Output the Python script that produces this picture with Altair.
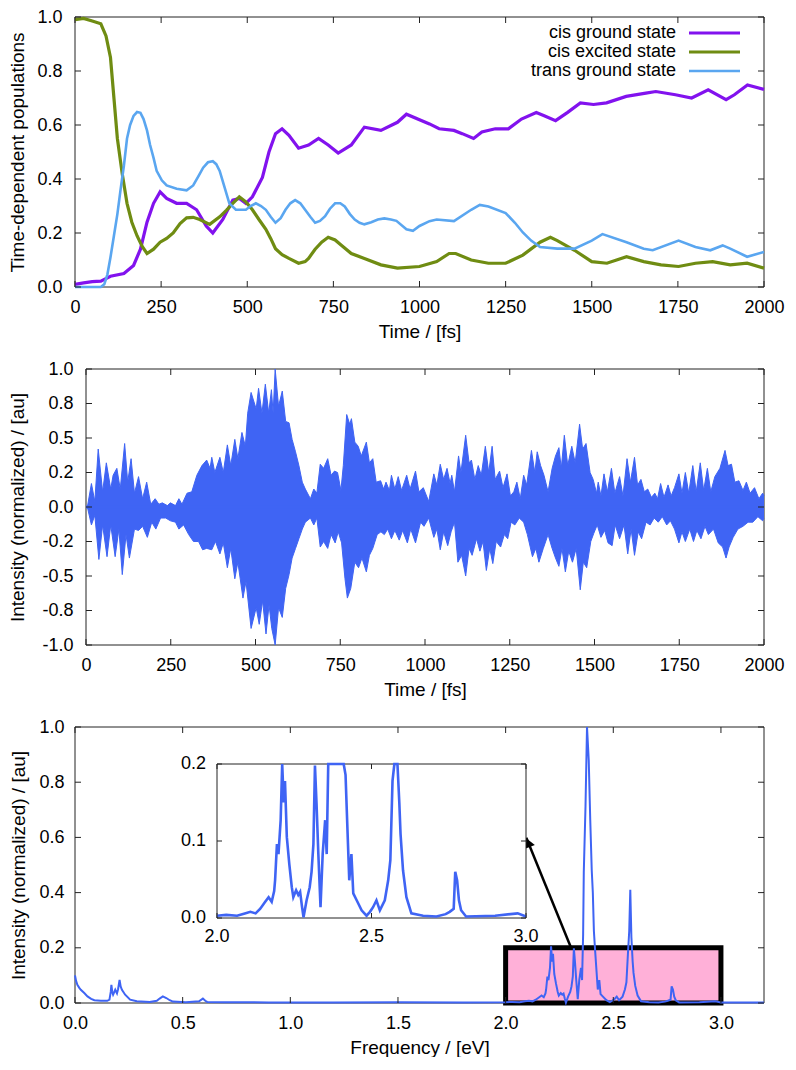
import altair as alt
import pandas as pd

# ---------------------------------------------------------------- data
time_ticks = [0, 250, 500, 750, 1000, 1250, 1500, 1750, 2000]
pop_ticks = [0.0, 0.2, 0.4, 0.6, 0.8, 1.0]
signal_ticks = [-1.0, -0.75, -0.5, -0.25, 0.0, 0.25, 0.5, 0.75, 1.0]
freq_ticks = [0.0, 0.5, 1.0, 1.5, 2.0, 2.5, 3.0]
inten_ticks = [0.0, 0.2, 0.4, 0.6, 0.8, 1.0]
inset_freq_ticks = [2.0, 2.5, 3.0]
inset_inten_ticks = [0.0, 0.1, 0.2]

series_names = ["cis ground state", "cis excited state", "trans ground state"]
series_colors = ["#8212ee", "#6f8c12", "#5aa6f0"]
series_widths = [3.2, 3.2, 2.6]

cis_ground = [
    (0, 0.010), (25, 0.015), (50, 0.020), (75, 0.022), (103, 0.040), (142, 0.050), (170, 0.080),
    (190, 0.140), (209, 0.240), (228, 0.310), (247, 0.352), (266, 0.328), (295, 0.310), (324, 0.310),
    (353, 0.286), (381, 0.226), (400, 0.200), (429, 0.250), (458, 0.322), (477, 0.328), (496, 0.310),
    (515, 0.334), (544, 0.406), (563, 0.500), (582, 0.568), (601, 0.586), (621, 0.562), (649, 0.514),
    (678, 0.526), (707, 0.550), (735, 0.526), (764, 0.496), (802, 0.526), (840, 0.592), (888, 0.580),
    (936, 0.610), (962, 0.640), (1029, 0.604), (1057, 0.586), (1100, 0.580), (1124, 0.568),
    (1157, 0.550), (1181, 0.574), (1220, 0.586), (1258, 0.586), (1296, 0.622), (1339, 0.646),
    (1362, 0.634), (1395, 0.616), (1429, 0.646), (1467, 0.682), (1505, 0.676), (1543, 0.682),
    (1600, 0.706), (1657, 0.718), (1686, 0.724), (1743, 0.712), (1790, 0.700), (1838, 0.730),
    (1890, 0.694), (1914, 0.712), (1952, 0.748), (2000, 0.732),
]
cis_excited = [
    (0, 0.990), (25, 0.995), (50, 0.985), (75, 0.975), (90, 0.930), (103, 0.850), (113, 0.700),
    (123, 0.550), (137, 0.420), (151, 0.310), (165, 0.240), (180, 0.190), (195, 0.150), (209, 0.124),
    (228, 0.140), (247, 0.166), (266, 0.180), (285, 0.200), (305, 0.235), (324, 0.256), (343, 0.258),
    (362, 0.250), (391, 0.232), (420, 0.260), (440, 0.285), (458, 0.310), (477, 0.334), (496, 0.315),
    (515, 0.286), (534, 0.250), (554, 0.214), (568, 0.180), (582, 0.142), (601, 0.120), (621, 0.106),
    (649, 0.088), (668, 0.094), (678, 0.106), (697, 0.140), (716, 0.166), (735, 0.184), (755, 0.174),
    (774, 0.154), (802, 0.124), (840, 0.106), (888, 0.082), (936, 0.070), (1000, 0.076), (1050, 0.094),
    (1086, 0.124), (1105, 0.124), (1150, 0.100), (1200, 0.088), (1250, 0.088), (1300, 0.118),
    (1350, 0.166), (1380, 0.184), (1400, 0.172), (1450, 0.136), (1500, 0.094), (1544, 0.088),
    (1601, 0.112), (1651, 0.094), (1701, 0.082), (1752, 0.076), (1801, 0.088), (1851, 0.094),
    (1902, 0.082), (1951, 0.088), (2000, 0.070),
]
trans_ground = [
    (0, 0.0), (75, 0.0), (85, 0.010), (94, 0.046), (103, 0.110), (113, 0.190), (123, 0.270),
    (132, 0.358), (142, 0.450), (151, 0.550), (160, 0.600), (170, 0.634), (180, 0.648), (190, 0.645),
    (199, 0.622), (209, 0.580), (218, 0.526), (228, 0.478), (237, 0.430), (252, 0.395), (266, 0.376),
    (295, 0.364), (324, 0.358), (343, 0.376), (358, 0.410), (372, 0.442), (386, 0.462), (400, 0.466),
    (410, 0.455), (420, 0.430), (434, 0.370), (448, 0.310), (467, 0.286), (496, 0.286), (510, 0.300),
    (525, 0.310), (540, 0.300), (554, 0.286), (568, 0.260), (582, 0.238), (597, 0.255), (611, 0.286),
    (625, 0.310), (639, 0.322), (654, 0.310), (668, 0.286), (683, 0.260), (697, 0.238), (711, 0.245),
    (726, 0.262), (740, 0.290), (755, 0.310), (770, 0.310), (783, 0.298), (798, 0.270), (812, 0.250),
    (826, 0.238), (840, 0.232), (860, 0.240), (879, 0.250), (898, 0.254), (917, 0.250), (933, 0.245),
    (962, 0.214), (981, 0.208), (1000, 0.226), (1029, 0.244), (1050, 0.250), (1100, 0.244),
    (1150, 0.286), (1175, 0.304), (1200, 0.298), (1250, 0.274), (1277, 0.238), (1300, 0.202),
    (1324, 0.172), (1350, 0.148), (1400, 0.142), (1450, 0.142), (1500, 0.172), (1531, 0.196),
    (1601, 0.166), (1651, 0.142), (1677, 0.136), (1752, 0.172), (1801, 0.148), (1844, 0.136),
    (1880, 0.154), (1902, 0.142), (1951, 0.112), (2000, 0.130),
]

# envelope of the (dense, oscillating) time signal
signal_upper = [
    (0, 0.0), (4, 0.0), (16, 0.17), (26, 0.04), (36, 0.42), (49, 0.11), (60, 0.32), (73, 0.13),
    (80, 0.23), (91, 0.28), (101, 0.13), (114, 0.46), (123, 0.18), (133, 0.35), (143, 0.10),
    (155, 0.22), (167, 0.06), (179, 0.18), (191, 0.02), (204, 0.06), (215, 0.02), (225, 0.03),
    (240, 0.01), (249, 0.03), (264, 0.01), (274, 0.06), (283, 0.02), (298, 0.10), (312, 0.11),
    (327, 0.23), (342, 0.30), (356, 0.34), (366, 0.28), (371, 0.36), (380, 0.25), (395, 0.36),
    (405, 0.25), (417, 0.45), (427, 0.30), (439, 0.49), (448, 0.35), (460, 0.54), (470, 0.44),
    (477, 0.68), (487, 0.83), (502, 0.71), (509, 0.86), (519, 0.68), (529, 0.89), (539, 0.68),
    (547, 0.85), (552, 0.68), (558, 1.00), (568, 0.73), (579, 0.84), (589, 0.62), (599, 0.61),
    (608, 0.49), (618, 0.40), (628, 0.30), (638, 0.18), (647, 0.13), (662, 0.06), (672, 0.13),
    (681, 0.10), (691, 0.31), (701, 0.28), (713, 0.35), (723, 0.23), (733, 0.26), (742, 0.25),
    (752, 0.12), (759, 0.30), (769, 0.67), (778, 0.60), (783, 0.64), (793, 0.47), (803, 0.44),
    (812, 0.37), (827, 0.47), (836, 0.32), (846, 0.35), (856, 0.18), (869, 0.19), (878, 0.13),
    (885, 0.18), (895, 0.12), (901, 0.23), (911, 0.13), (921, 0.22), (931, 0.12), (946, 0.23),
    (956, 0.13), (972, 0.26), (982, 0.11), (995, 0.14), (1011, 0.04), (1026, 0.24), (1035, 0.16),
    (1045, 0.31), (1055, 0.20), (1065, 0.28), (1074, 0.17), (1079, 0.23), (1087, 0.11), (1099, 0.37),
    (1106, 0.25), (1120, 0.52), (1130, 0.32), (1137, 0.34), (1147, 0.20), (1157, 0.30), (1166, 0.23),
    (1178, 0.44), (1188, 0.25), (1198, 0.44), (1207, 0.20), (1220, 0.26), (1230, 0.14), (1242, 0.24),
    (1252, 0.08), (1262, 0.11), (1271, 0.18), (1281, 0.06), (1291, 0.23), (1300, 0.16), (1314, 0.41),
    (1324, 0.25), (1331, 0.40), (1341, 0.30), (1351, 0.23), (1363, 0.11), (1375, 0.28), (1385, 0.37),
    (1395, 0.43), (1402, 0.28), (1411, 0.52), (1421, 0.30), (1433, 0.44), (1443, 0.32), (1456, 0.60),
    (1465, 0.42), (1475, 0.46), (1487, 0.25), (1496, 0.20), (1506, 0.10), (1511, 0.18), (1519, 0.08),
    (1528, 0.24), (1538, 0.11), (1550, 0.28), (1560, 0.10), (1574, 0.22), (1584, 0.08), (1596, 0.35),
    (1606, 0.18), (1618, 0.36), (1627, 0.16), (1637, 0.20), (1647, 0.11), (1657, 0.13), (1668, 0.07),
    (1678, 0.10), (1686, 0.06), (1695, 0.17), (1705, 0.07), (1717, 0.16), (1726, 0.08), (1736, 0.14),
    (1749, 0.24), (1758, 0.10), (1768, 0.25), (1778, 0.10), (1790, 0.30), (1800, 0.11), (1812, 0.32),
    (1822, 0.12), (1833, 0.28), (1843, 0.11), (1855, 0.22), (1870, 0.28), (1885, 0.41), (1894, 0.30),
    (1904, 0.31), (1914, 0.18), (1926, 0.19), (1938, 0.12), (1948, 0.18), (1959, 0.10), (1972, 0.14),
    (1985, 0.06), (1996, 0.10), (2000, 0.08),
]
signal_lower = [
    (0, 0.0), (4, 0.0), (16, -0.13), (26, -0.06), (38, -0.38), (49, -0.13), (62, -0.36), (73, -0.13),
    (86, -0.36), (97, -0.16), (107, -0.49), (118, -0.20), (128, -0.37), (143, -0.16), (155, -0.17),
    (167, -0.14), (181, -0.22), (194, -0.11), (206, -0.16), (220, -0.08), (235, -0.08), (249, -0.10),
    (264, -0.11), (274, -0.16), (288, -0.13), (303, -0.20), (317, -0.25), (332, -0.25), (344, -0.31),
    (356, -0.30), (371, -0.31), (382, -0.25), (395, -0.34), (405, -0.26), (417, -0.44), (427, -0.30),
    (439, -0.52), (448, -0.40), (463, -0.66), (472, -0.54), (487, -0.88), (502, -0.73), (511, -0.85),
    (521, -0.68), (531, -0.92), (540, -0.71), (548, -0.88), (558, -1.00), (568, -0.73), (579, -0.80),
    (589, -0.59), (599, -0.49), (608, -0.37), (618, -0.30), (628, -0.23), (638, -0.16), (647, -0.11),
    (662, -0.08), (672, -0.13), (681, -0.08), (691, -0.29), (701, -0.25), (713, -0.30), (723, -0.20),
    (735, -0.26), (744, -0.18), (754, -0.26), (764, -0.52), (771, -0.66), (781, -0.59), (793, -0.40),
    (804, -0.44), (814, -0.37), (827, -0.47), (836, -0.35), (846, -0.30), (859, -0.20), (870, -0.18),
    (880, -0.20), (890, -0.16), (901, -0.23), (911, -0.17), (924, -0.24), (934, -0.17), (948, -0.26),
    (958, -0.16), (972, -0.26), (987, -0.11), (997, -0.14), (1011, -0.08), (1026, -0.22), (1035, -0.16),
    (1045, -0.31), (1055, -0.18), (1067, -0.28), (1077, -0.18), (1087, -0.11), (1097, -0.40),
    (1108, -0.35), (1120, -0.50), (1130, -0.30), (1139, -0.35), (1152, -0.23), (1162, -0.32),
    (1171, -0.25), (1181, -0.46), (1191, -0.30), (1200, -0.41), (1210, -0.25), (1223, -0.29),
    (1234, -0.20), (1244, -0.23), (1254, -0.11), (1265, -0.13), (1278, -0.08), (1291, -0.11),
    (1302, -0.20), (1317, -0.36), (1327, -0.30), (1336, -0.40), (1349, -0.30), (1363, -0.20),
    (1375, -0.30), (1385, -0.37), (1395, -0.43), (1404, -0.30), (1414, -0.47), (1424, -0.32),
    (1435, -0.40), (1446, -0.30), (1458, -0.60), (1467, -0.40), (1477, -0.44), (1489, -0.25),
    (1498, -0.19), (1508, -0.13), (1519, -0.22), (1530, -0.17), (1540, -0.26), (1552, -0.28),
    (1561, -0.13), (1574, -0.23), (1587, -0.13), (1598, -0.34), (1608, -0.16), (1618, -0.35),
    (1629, -0.18), (1639, -0.23), (1652, -0.11), (1664, -0.13), (1676, -0.08), (1688, -0.11),
    (1700, -0.07), (1713, -0.13), (1724, -0.10), (1736, -0.16), (1749, -0.26), (1758, -0.18),
    (1768, -0.25), (1781, -0.16), (1792, -0.25), (1802, -0.17), (1814, -0.23), (1826, -0.14),
    (1836, -0.20), (1851, -0.16), (1865, -0.26), (1878, -0.29), (1888, -0.37), (1897, -0.29),
    (1909, -0.22), (1923, -0.16), (1938, -0.14), (1953, -0.11), (1967, -0.11), (1982, -0.07),
    (1996, -0.10), (2000, -0.08),
]

spectrum = [
    (0.000, 0.100), (0.005, 0.080), (0.011, 0.066), (0.020, 0.055), (0.027, 0.048), (0.043, 0.036),
    (0.058, 0.024), (0.075, 0.015), (0.090, 0.010), (0.120, 0.008), (0.150, 0.008), (0.160, 0.012),
    (0.166, 0.040), (0.169, 0.066), (0.173, 0.040), (0.177, 0.030), (0.187, 0.048), (0.195, 0.035),
    (0.200, 0.050), (0.207, 0.084), (0.212, 0.060), (0.218, 0.048), (0.233, 0.030), (0.256, 0.012),
    (0.287, 0.006), (0.347, 0.004), (0.380, 0.008), (0.393, 0.016), (0.408, 0.024), (0.424, 0.018),
    (0.440, 0.010), (0.454, 0.005), (0.515, 0.003), (0.576, 0.006), (0.594, 0.016), (0.605, 0.008),
    (0.614, 0.004), (0.700, 0.003), (0.900, 0.002), (1.200, 0.002), (1.500, 0.003), (1.800, 0.002),
    (2.000, 0.003), (2.030, 0.004), (2.065, 0.003), (2.090, 0.006), (2.108, 0.008), (2.125, 0.006),
    (2.140, 0.012), (2.156, 0.021), (2.167, 0.027), (2.177, 0.021), (2.185, 0.035), (2.188, 0.049),
    (2.194, 0.096), (2.199, 0.083), (2.206, 0.127), (2.211, 0.205), (2.216, 0.150), (2.220, 0.178),
    (2.226, 0.105), (2.234, 0.070), (2.242, 0.040), (2.247, 0.027), (2.256, 0.036), (2.263, 0.030),
    (2.269, 0.034), (2.275, 0.015), (2.280, 0.001), (2.290, 0.023), (2.300, 0.040), (2.306, 0.060),
    (2.312, 0.096), (2.317, 0.198), (2.322, 0.150), (2.328, 0.083), (2.335, 0.014), (2.342, 0.083),
    (2.350, 0.127), (2.355, 0.083), (2.360, 0.250), (2.363, 0.473), (2.371, 0.713), (2.378, 1.000),
    (2.386, 0.880), (2.393, 0.664), (2.400, 0.480), (2.405, 0.400), (2.410, 0.260), (2.416, 0.186),
    (2.420, 0.140), (2.428, 0.049), (2.435, 0.083), (2.441, 0.032), (2.452, 0.023), (2.468, 0.010),
    (2.484, 0.003), (2.495, 0.008), (2.505, 0.014), (2.516, 0.023), (2.527, 0.010), (2.543, 0.023),
    (2.554, 0.049), (2.561, 0.075), (2.568, 0.178), (2.574, 0.260), (2.579, 0.410), (2.584, 0.240),
    (2.590, 0.150), (2.594, 0.109), (2.602, 0.062), (2.613, 0.027), (2.629, 0.006), (2.667, 0.003),
    (2.710, 0.002), (2.740, 0.005), (2.753, 0.008), (2.766, 0.012), (2.771, 0.060), (2.777, 0.049),
    (2.783, 0.023), (2.790, 0.010), (2.806, 0.002), (2.900, 0.003), (2.973, 0.006), (3.000, 0.002),
    (3.100, 0.002), (3.200, 0.002),
]

zoom_box = {"x0": [2.0], "x1": [3.0], "y0": [0.0], "y1": [0.2]}
arrow_from = (2.302, 0.204)
arrow_to = (2.096, 0.599)

# ---------------------------------------------------------------- style
FONT = "Liberation Sans"
FS = 18
TFS = 19
TICK = 6
FRAME = "#222222"
SIG_BLUE = "#3f64f4"
PINK = "#ffb0d8"

W = 689
P1_H, P2_H, P3_H = 270, 276, 276
SPACING = 19
MID_SHIFT = 11
INSET_X_RANGE = [142, 451]
INSET_Y_RANGE = [191, 37]


def frame(xdom, ydom, xs, ys, ax_x, ax_y):
    return alt.Chart(pd.DataFrame({"k": [0]})).mark_rect(
        fillOpacity=0, stroke=FRAME, strokeWidth=1).encode(
        x=alt.XDatum(xdom[0], scale=xs, axis=ax_x), x2=alt.X2Datum(xdom[1]),
        y=alt.YDatum(ydom[0], scale=ys, axis=ax_y), y2=alt.Y2Datum(ydom[1]))


def inward_ticks(xvals, yvals, xdom, ydom, xs, ys, ax_x=None, ax_y=None, L=TICK):
    dfx = pd.DataFrame({"v": xvals})
    dfy = pd.DataFrame({"v": yvals})
    common = dict(color=FRAME, thickness=1, size=L, opacity=1)
    return [
        alt.Chart(dfx).mark_tick(orient="vertical", yOffset=-L / 2, **common).encode(
            x=alt.X("v:Q", scale=xs, axis=ax_x), y=alt.YDatum(ydom[0], scale=ys, axis=ax_y)),
        alt.Chart(dfx).mark_tick(orient="vertical", yOffset=L / 2, **common).encode(
            x=alt.X("v:Q", scale=xs, axis=ax_x), y=alt.YDatum(ydom[1], scale=ys, axis=ax_y)),
        alt.Chart(dfy).mark_tick(orient="horizontal", xOffset=L / 2, **common).encode(
            y=alt.Y("v:Q", scale=ys, axis=ax_y), x=alt.XDatum(xdom[0], scale=xs, axis=ax_x)),
        alt.Chart(dfy).mark_tick(orient="horizontal", xOffset=-L / 2, **common).encode(
            y=alt.Y("v:Q", scale=ys, axis=ax_y), x=alt.XDatum(xdom[1], scale=xs, axis=ax_x)),
    ]


def xaxis(values, title, fmt, label_pad=11, title_pad=6):
    return alt.Axis(values=values, title=title, format=fmt, labelPadding=label_pad,
                    titlePadding=title_pad, labelFlush=False)


def yaxis(values, title, fmt=".1f", label_pad=13, title_pad=9, expr=None, offset=0):
    kw = dict(values=values, title=title, format=fmt, labelPadding=label_pad,
              titlePadding=title_pad, offset=offset)
    if expr:
        kw["labelExpr"] = expr
    return alt.Axis(**kw)


# ---------------------------------------------------------------- panel 1
tx = alt.Scale(domain=[0, 2000], nice=False, zero=False)
py = alt.Scale(domain=[0, 1], nice=False, zero=False)
AX1_X = xaxis(time_ticks, "Time / [fs]", "d")
AX1_Y = yaxis(pop_ticks, "Time-dependent populations", title_pad=9)

pop_layers = []
for name, col, sw, series in zip(series_names, series_colors, series_widths,
                                 [cis_ground, cis_excited, trans_ground]):
    df = pd.DataFrame(series, columns=["t", "v"])
    pop_layers.append(alt.Chart(df).mark_line(strokeWidth=sw, color=col).encode(
        x=alt.X("t:Q", scale=tx, axis=AX1_X),
        y=alt.Y("v:Q", scale=py, axis=AX1_Y)))

legend_layers = []
for i, (name, col, sw) in enumerate(zip(series_names, series_colors, series_widths)):
    ypx = 16 + i * 19
    d = pd.DataFrame({"label": [name]})
    legend_layers.append(
        alt.Chart(d).mark_text(align="right", baseline="middle", font=FONT, fontSize=FS, color="black")
        .encode(text="label:N", x=alt.value(W - 88), y=alt.value(ypx)))
    legend_layers.append(
        alt.Chart(d).mark_rule(color=col, strokeWidth=sw)
        .encode(x=alt.value(W - 75), x2=alt.value(W - 24), y=alt.value(ypx)))

panel1 = alt.layer(
    frame([0, 2000], [0, 1], tx, py, AX1_X, AX1_Y),
    *pop_layers, *legend_layers,
    *inward_ticks(time_ticks, pop_ticks, [0, 2000], [0, 1], tx, py, AX1_X, AX1_Y)
).properties(width=W, height=P1_H)

# ---------------------------------------------------------------- panel 2
tx2 = alt.Scale(domain=[0, 2000], range=[MID_SHIFT, W], nice=False, zero=False)
sy = alt.Scale(domain=[-1, 1], nice=False, zero=False)
up_df = pd.DataFrame(signal_upper, columns=["t", "v"])
lo_df = pd.DataFrame(signal_lower, columns=["t", "v"])
minus_expr = ("(datum.value < 0 ? '-' : '') + (abs(datum.value) == 0.25 ? '0.2' : "
              "format(abs(datum.value), '.1f'))")
AX2_X = xaxis(time_ticks, "Time / [fs]", "d")
AX2_Y = yaxis(signal_ticks, "Intensity (normalized) / [au]", title_pad=14, expr=minus_expr,
              offset=-MID_SHIFT)

sig_layers = []
for df in (up_df, lo_df):
    sig_layers.append(alt.Chart(df).mark_area(color=SIG_BLUE, opacity=1).encode(
        x=alt.X("t:Q", scale=tx2, axis=AX2_X),
        y=alt.Y("v:Q", scale=sy, axis=AX2_Y),
        y2=alt.Y2Datum(0)))
    sig_layers.append(alt.Chart(df).mark_line(color=SIG_BLUE, strokeWidth=1).encode(
        x=alt.X("t:Q", scale=tx2, axis=AX2_X),
        y=alt.Y("v:Q", scale=sy, axis=AX2_Y)))
zero_fill = alt.Chart(pd.DataFrame({"k": [0]})).mark_rule(color=SIG_BLUE, strokeWidth=3).encode(
    x=alt.XDatum(0, scale=tx2, axis=AX2_X), x2=alt.X2Datum(2000),
    y=alt.YDatum(0, scale=sy, axis=AX2_Y))

panel2 = alt.layer(
    frame([0, 2000], [-1, 1], tx2, sy, AX2_X, AX2_Y),
    *sig_layers, zero_fill,
    *inward_ticks(time_ticks, signal_ticks, [0, 2000], [-1, 1], tx2, sy, AX2_X, AX2_Y)
).properties(width=W, height=P2_H)

# ---------------------------------------------------------------- panel 3
fx = alt.Scale(domain=[0, 3.2], nice=False, zero=False)
fy = alt.Scale(domain=[0, 1], nice=False, zero=False)
AX3_X = xaxis(freq_ticks, "Frequency / [eV]", ".1f")
AX3_Y = yaxis(inten_ticks, "Intensity (normalized) / [au]", label_pad=11, title_pad=10)

spec_df = pd.DataFrame(spectrum, columns=["e", "i"])
box_df = pd.DataFrame(zoom_box)
arrow_df = pd.DataFrame({"x": [arrow_from[0]], "y": [arrow_from[1]],
                         "x2": [arrow_to[0]], "y2": [arrow_to[1]]})

box = alt.Chart(box_df).mark_rect(fill=PINK, stroke="black", strokeWidth=5).encode(
    x=alt.X("x0:Q", scale=fx, axis=AX3_X), x2="x1:Q",
    y=alt.Y("y0:Q", scale=fy, axis=AX3_Y), y2="y1:Q")
spec_line = alt.Chart(spec_df).mark_line(color=SIG_BLUE, strokeWidth=2).encode(
    x=alt.X("e:Q", scale=fx, axis=AX3_X),
    y=alt.Y("i:Q", scale=fy, axis=AX3_Y))
arrow_line = alt.Chart(arrow_df).mark_rule(color="black", strokeWidth=2.5).encode(
    x=alt.X("x:Q", scale=fx, axis=AX3_X), y=alt.Y("y:Q", scale=fy, axis=AX3_Y),
    x2="x2:Q", y2="y2:Q")
arrow_head = alt.Chart(arrow_df).mark_point(
    shape="triangle-up", filled=True, color="black", opacity=1, size=110, angle=338,
    xOffset=2, yOffset=5).encode(
    x=alt.X("x2:Q", scale=fx, axis=AX3_X), y=alt.Y("y2:Q", scale=fy, axis=AX3_Y))

main_group = alt.layer(
    frame([0, 3.2], [0, 1], fx, fy, AX3_X, AX3_Y),
    box, spec_line, arrow_line, arrow_head,
    *inward_ticks(freq_ticks, inten_ticks, [0, 3.2], [0, 1], fx, fy, AX3_X, AX3_Y)
)

ix = alt.Scale(domain=[2.0, 3.0], range=INSET_X_RANGE, nice=False, zero=False)
iy = alt.Scale(domain=[0.0, 0.2], range=INSET_Y_RANGE, nice=False, zero=False, clamp=True)
inset_frame_df = pd.DataFrame({"x0": [2.0], "x1": [3.0], "y0": [0.0], "y1": [0.2]})
inset_frame = alt.Chart(inset_frame_df).mark_rect(fill="white", stroke=FRAME, strokeWidth=1).encode(
    x=alt.X("x0:Q", scale=ix, axis=None), x2="x1:Q",
    y=alt.Y("y0:Q", scale=iy, axis=None), y2="y1:Q")
inset_line = alt.Chart(spec_df).transform_filter(
    "datum.e >= 2.0 && datum.e <= 3.0").mark_line(color=SIG_BLUE, strokeWidth=2.6).encode(
    x=alt.X("e:Q", scale=ix, axis=None), y=alt.Y("i:Q", scale=iy, axis=None))
inset_xlab = alt.Chart(pd.DataFrame({"v": inset_freq_ticks})).mark_text(
    baseline="middle", dy=19, font=FONT, fontSize=FS, color="black").encode(
    x=alt.X("v:Q", scale=ix, axis=None), y=alt.YDatum(0.0, scale=iy, axis=None),
    text=alt.Text("v:Q", format=".1f"))
inset_ylab = alt.Chart(pd.DataFrame({"v": inset_inten_ticks})).mark_text(
    align="right", baseline="middle", dx=-11, font=FONT, fontSize=FS, color="black").encode(
    y=alt.Y("v:Q", scale=iy, axis=None), x=alt.XDatum(2.0, scale=ix, axis=None),
    text=alt.Text("v:Q", format=".1f"))

inset_group = alt.layer(
    inset_frame, inset_line,
    *inward_ticks(inset_freq_ticks, inset_inten_ticks, [2.0, 3.0], [0.0, 0.2], ix, iy, L=5),
    inset_xlab, inset_ylab,
)

panel3 = alt.layer(main_group, inset_group).resolve_scale(
    x="independent", y="independent").properties(width=W, height=P3_H)

# ---------------------------------------------------------------- assemble
chart = alt.vconcat(panel1, panel2, panel3, spacing=SPACING).properties(
    padding={"left": 0, "top": 0, "right": 0, "bottom": 0}
).configure_view(
    stroke="transparent", strokeWidth=0
).configure_axis(
    labelFont=FONT, titleFont=FONT, labelFontSize=FS, titleFontSize=TFS, titleFontWeight="normal",
    labelColor="black", titleColor="black", domain=False, ticks=False, tickSize=0, grid=False,
    labelFlush=False, labelOverlap=False,
).configure_text(font=FONT)

chart.save("out.html", embed_options={"renderer": "svg", "actions": False})
